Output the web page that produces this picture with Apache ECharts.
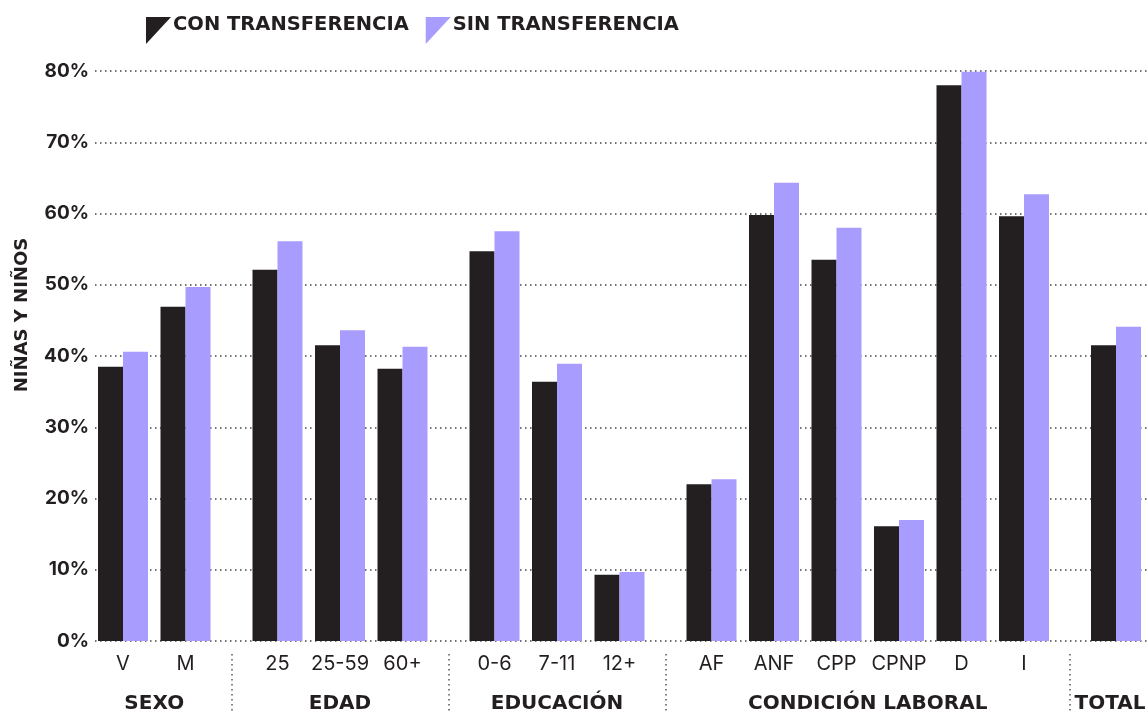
<!DOCTYPE html>
<html>
<head>
<meta charset="utf-8">
<script src="https://cdn.jsdelivr.net/npm/echarts@6/dist/echarts.min.js"></script>
<style>
html,body{margin:0;padding:0;background:#fff;}
#chart{width:1147px;height:714px;}
</style>
</head>
<body>
<div id="chart"></div>
<script>
// ---- data ----
const categories = ['V','M','25','25-59','60+','0-6','7-11','12+','AF','ANF','CPP','CPNP','D','I',''];
const categoryGroups = [0,0,1,1,1,2,2,2,3,3,3,3,3,3,4];
const groupNames = ['SEXO','EDAD','EDUCACIÓN','CONDICIÓN LABORAL','TOTAL'];
const seriesNames = ['CON TRANSFERENCIA','SIN TRANSFERENCIA'];
const conTransferencia = [38.5,46.9,52.1,41.5,38.2,54.7,36.4,9.3,22.0,59.8,53.5,16.1,78.0,59.6,41.5];
const sinTransferencia = [40.6,49.7,56.1,43.6,41.3,57.5,38.9,9.7,22.7,64.3,58.0,17.0,79.9,62.7,44.1];
const yTicks = [0,10,20,30,40,50,60,70,80];

// ---- layout helpers (positions on a value x-axis) ----
const GAP = 0.472;
const pos = categories.map((c,i)=> i + categoryGroups[i]*GAP);
const groupCenters = groupNames.map((g,gi)=>{
  const p = pos.filter((_,i)=>categoryGroups[i]===gi);
  return (Math.min(...p)+Math.max(...p))/2;
});
const separators = [];
for (let i=1;i<categories.length;i++){
  if (categoryGroups[i]!==categoryGroups[i-1]) separators.push((pos[i-1]+pos[i])/2);
}
const XMIN = -0.448, XMAX = 16.384;
const key = v => Math.round(v*1000);
const catLabelMap = {}; pos.forEach((p,i)=>catLabelMap[key(p)] = categories[i]);
const groupLabelMap = {}; groupCenters.forEach((p,i)=>groupLabelMap[key(p)] = groupNames[i]);
const lastGroup = groupNames[groupNames.length-1];

const DARK = '#231f20', PURPLE = '#a99cff';
const FONT = 'Inter';
const BOLD = 'DejaVu Sans';

const chart = echarts.init(document.getElementById('chart'), null, {renderer:'canvas'});
const baseX = {type:'value', min:XMIN, max:XMAX, gridIndex:0, position:'bottom',
  axisLine:{show:false}, splitLine:{show:false}};
chart.setOption({
  animation:false,
  textStyle:{fontFamily:FONT},
  legend:{
    left:146, top:5, padding:0,
    itemWidth:25, itemHeight:39, itemGap:17,
    icon:'path://M0,-12M0,0L25,0L0,27Z',
    textStyle:{fontFamily:BOLD, fontWeight:'bold', fontSize:19.5, color:DARK, padding:[0,0,0,-3]},
    data:seriesNames
  },
  grid:{left:95, right:0, top:71, bottom:73, containLabel:false, outerBoundsMode:'none'},
  xAxis:[
    Object.assign({}, baseX, {
      axisTick:{show:false},
      axisLabel:{show:true, customValues:pos, margin:13, fontFamily:FONT, fontSize:20, color:DARK,
        formatter:v=>catLabelMap[key(v)] ?? ''}
    }),
    Object.assign({}, baseX, {
      axisTick:{show:false},
      axisLabel:{show:true, customValues:groupCenters, margin:53, fontFamily:BOLD, fontWeight:'bold', fontSize:20, color:DARK,
        formatter:v=>{ const s = groupLabelMap[key(v)] ?? ''; return s===lastGroup ? '{e|'+s+'}' : s; },
        rich:{e:{fontFamily:BOLD, fontWeight:'bold', fontSize:20, color:DARK, padding:[0,12,0,0]}}}
    }),
    Object.assign({}, baseX, {
      offset:13,
      axisTick:{show:true, customValues:separators, length:62, inside:false,
        lineStyle:{type:[1.5,3.5], color:'#555', width:1.5}},
      axisLabel:{show:false}
    })
  ],
  yAxis:{
    type:'value', min:0, max:80, interval:10,
    name:'NIÑAS Y NIÑOS', nameLocation:'middle', nameGap:64, nameRotate:90,
    nameTextStyle:{fontFamily:BOLD, fontWeight:'bold', fontSize:18, color:DARK, padding:[0,0,0,82]},
    axisLine:{show:false}, axisTick:{show:false},
    axisLabel:{margin:6, fontFamily:FONT, fontWeight:'bold', fontSize:19, color:DARK,
      formatter:v=> yTicks.includes(v) ? v+'%' : ''},
    splitLine:{show:true, lineStyle:{type:[1.5,3.5], color:'#444', width:1.5}}
  },
  series:[
    {name:seriesNames[0], type:'bar', xAxisIndex:0, barWidth:25, barGap:'0%',
     itemStyle:{color:DARK}, data:pos.map((p,i)=>[p, conTransferencia[i]])},
    {name:seriesNames[1], type:'bar', xAxisIndex:0, barWidth:25, barGap:'0%',
     itemStyle:{color:PURPLE}, data:pos.map((p,i)=>[p, sinTransferencia[i]])}
  ]
});
</script>
</body>
</html>
